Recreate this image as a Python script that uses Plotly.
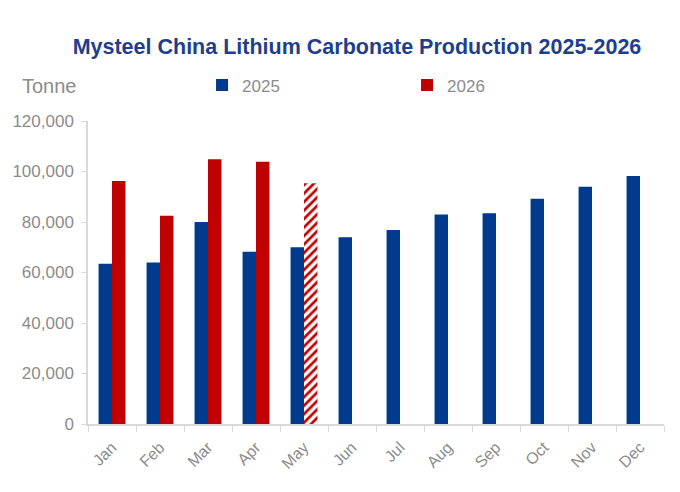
import plotly.graph_objects as go

months = ["Jan", "Feb", "Mar", "Apr", "May", "Jun",
          "Jul", "Aug", "Sep", "Oct", "Nov", "Dec"]
prod_2025 = [63500, 64000, 80000, 68200, 70000, 74000,
             76800, 83000, 83500, 89200, 94000, 98200]
prod_2026 = [96200, 82500, 104900, 103900, 95300]
# last 2026 month is an estimate -> drawn hatched
hatch_2026 = ["", "", "", "", "/"]

BLUE = "#003A8C"
RED = "#C00000"
GREY = "#8C8C8C"
AXIS = "#D9D9D9"
FONT = "Liberation Sans, Arial, sans-serif"

# page body has an 8px margin, so the figure is drawn 8px smaller
W, H = 672, 484

fig = go.Figure()

fig.add_trace(
    go.Bar(
        x=months,
        y=prod_2025,
        name="2025",
        marker=dict(color=BLUE, line_width=0),
    )
)

fig.add_trace(
    go.Bar(
        x=months[: len(prod_2026)],
        y=prod_2026,
        name="2026",
        marker=dict(
            color=RED,
            line_width=0,
            pattern=dict(shape=hatch_2026, size=6, solidity=0.45, fillmode="replace"),
        ),
    )
)

fig.update_layout(
    width=W,
    height=H,
    barmode="group",
    bargap=0.44,
    bargroupgap=0,
    plot_bgcolor="white",
    paper_bgcolor="white",
    font=dict(family=FONT, color=GREY, size=15),
    title=dict(
        text="<b>Mysteel China Lithium Carbonate Production 2025-2026</b>",
        xref="container",
        x=349 / W,
        xanchor="center",
        y=1 - 38 / H,
        yanchor="middle",
        font=dict(size=21.5, color="#1F3F8C", family=FONT),
    ),
    margin=dict(l=80, r=16, t=113, b=68),
    legend=dict(
        orientation="h",
        x=0.198,
        xanchor="left",
        y=1.117,
        yanchor="middle",
        entrywidth=160,
        entrywidthmode="pixels",
        font=dict(size=17, color=GREY),
        itemclick=False,
    ),
    showlegend=True,
)

fig.update_xaxes(
    automargin=False,
    showgrid=False,
    showline=True,
    linecolor=AXIS,
    linewidth=1.5,
    ticks="outside",
    tickson="boundaries",
    ticklen=6,
    tickcolor=AXIS,
    tickangle=-45,
    ticklabelstandoff=6,
    tickfont=dict(size=16, color=GREY),
)

fig.update_yaxes(
    automargin=False,
    range=[0, 120000],
    dtick=20000,
    tickformat=",d",
    showgrid=False,
    zeroline=False,
    showline=True,
    linecolor=AXIS,
    linewidth=1.5,
    ticks="outside",
    ticklen=5,
    tickcolor=AXIS,
    ticklabelstandoff=4,
    tickfont=dict(size=17, color=GREY),
)

fig.add_annotation(
    text="Tonne",
    xref="paper",
    yref="paper",
    x=-0.118,
    y=1.117,
    xanchor="left",
    yanchor="middle",
    showarrow=False,
    font=dict(size=20, color=GREY),
)

fig.write_html("out.html")
